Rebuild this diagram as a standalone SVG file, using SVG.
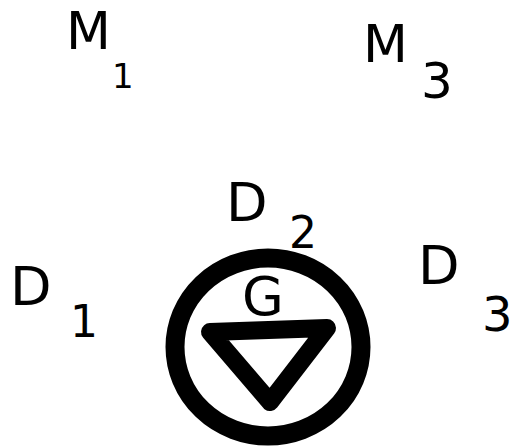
<svg xmlns="http://www.w3.org/2000/svg" width="511" height="446" viewBox="0 0 511 446">
<style>
.lbl{font-family:"DejaVu Sans","Liberation Sans",sans-serif;fill:#000}
.ring{fill:none;stroke:#000;stroke-width:19}
.tri{fill:none;stroke:#000;stroke-width:18;stroke-linejoin:round;stroke-linecap:round}
</style>
<rect width="511" height="446" fill="#fff"/>
<g id="connectors"></g>
<g id="M1">
<text class="lbl" x="66" y="49" font-size="52">M</text>
<text class="lbl" x="112" y="88" font-size="34">1</text>
</g>
<g id="M3">
<text class="lbl" x="363" y="62" font-size="52">M</text>
<text class="lbl" x="421" y="98" font-size="50">3</text>
</g>
<g id="D2">
<text class="lbl" x="226" y="221" font-size="54">D</text>
<text class="lbl" x="289" y="248" font-size="44">2</text>
</g>
<g id="D1">
<text class="lbl" x="10" y="305" font-size="54">D</text>
<text class="lbl" x="70" y="337" font-size="44">1</text>
</g>
<g id="D3">
<text class="lbl" x="418" y="284" font-size="54">D</text>
<text class="lbl" x="482" y="331" font-size="48">3</text>
</g>
<g id="G">
<ellipse class="ring" cx="268" cy="347" rx="93" ry="89"/>
<text class="lbl" x="242" y="315" font-size="54">G</text>
<polygon class="tri" points="210,332 327,328 270,402"/>
</g>
</svg>
